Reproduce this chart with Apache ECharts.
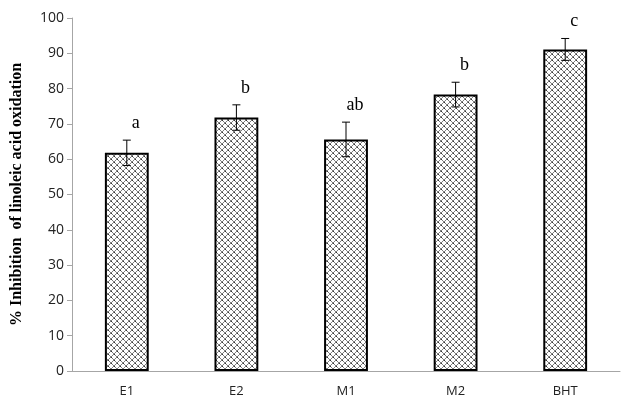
<!DOCTYPE html>
<html><head><meta charset="utf-8">
<script src="https://cdn.jsdelivr.net/npm/echarts@6/dist/echarts.min.js"></script>
<style>html,body{margin:0;padding:0;background:#fff}#c{width:626px;height:411px}</style>
</head><body><div id="c"></div>
<script>
const categories = ['E1', 'E2', 'M1', 'M2', 'BHT'];
const values = [61.8, 71.8, 65.6, 78.3, 91.1];
const errors = [3.6, 3.6, 4.9, 3.5, 3.1];
const letters = ['a', 'b', 'ab', 'b', 'c'];
const yTicks = [0, 10, 20, 30, 40, 50, 60, 70, 80, 90, 100];

function makePattern() {
  const c = document.createElement('canvas');
  c.width = 6; c.height = 6;
  const g = c.getContext('2d');
  g.fillStyle = '#ffffff'; g.fillRect(0, 0, 6, 6);
  g.strokeStyle = '#707070'; g.lineWidth = 0.9;
  g.beginPath();
  g.moveTo(0, 0); g.lineTo(6, 6);
  g.moveTo(6, 0); g.lineTo(0, 6);
  g.stroke();
  g.fillStyle = '#333';
  g.fillRect(0, 0, 1, 1);
  g.fillRect(3, 3, 1, 1);
  return c;
}

const chart = echarts.init(document.getElementById('c'), null, {renderer: 'canvas'});
chart.setOption({
  animation: false,
  backgroundColor: '#fff',
  grid: {left: 72, top: 18, right: 6, bottom: 40, containLabel: false, outerBoundsMode: 'none'},
  xAxis: {
    type: 'category', data: categories,
    axisLine: {lineStyle: {color: '#a6a6a6', width: 1}},
    axisTick: {show: false},
    axisLabel: {fontFamily: 'Open Sans, Liberation Sans, Arial', fontSize: 13, color: '#222', margin: 14}
  },
  yAxis: {
    type: 'value', min: yTicks[0], max: yTicks[yTicks.length - 1], interval: 10,
    name: '% Inhibition  of linoleic acid oxidation',
    nameLocation: 'middle', nameGap: 47, nameRotate: 90,
    nameTextStyle: {fontFamily: 'Liberation Serif, Times New Roman', fontWeight: 'bold', fontSize: 16, color: '#000'},
    splitLine: {show: false},
    axisLine: {show: true, lineStyle: {color: '#a6a6a6', width: 1}},
    axisTick: {show: true, inside: false, length: 5, lineStyle: {color: '#a6a6a6'}},
    axisLabel: {fontFamily: 'Open Sans, Liberation Sans, Arial', fontSize: 14, color: '#222', margin: 8}
  },
  series: [{
    type: 'bar', data: values, barWidth: '40%',
    itemStyle: {color: {image: makePattern(), repeat: 'repeat'}, borderColor: '#000', borderWidth: 2}
  }, {
    type: 'custom',
    data: values.map((v, i) => [i, v, errors[i], letters[i]]),
    renderItem: function (params, api) {
      const i = api.value(0), v = api.value(1), e = api.value(2);
      const top = api.coord([i, v + e]);
      const bot = api.coord([i, v - e]);
      const hw = 4;
      return {
        type: 'group',
        children: [
          {type: 'line', shape: {x1: top[0], y1: top[1], x2: bot[0], y2: bot[1]}, style: {stroke: '#000', lineWidth: 1}},
          {type: 'line', shape: {x1: top[0] - hw, y1: top[1], x2: top[0] + hw, y2: top[1]}, style: {stroke: '#000', lineWidth: 1}},
          {type: 'line', shape: {x1: bot[0] - hw, y1: bot[1], x2: bot[0] + hw, y2: bot[1]}, style: {stroke: '#000', lineWidth: 1}},
          {type: 'text', x: top[0] + 9, y: top[1] - 8, style: {text: letters[params.dataIndex], fontFamily: 'Liberation Serif, Times New Roman', fontSize: 18, fill: '#000', align: 'center', verticalAlign: 'bottom'}}
        ]
      };
    },
    z: 10
  }]
});
</script></body></html>
